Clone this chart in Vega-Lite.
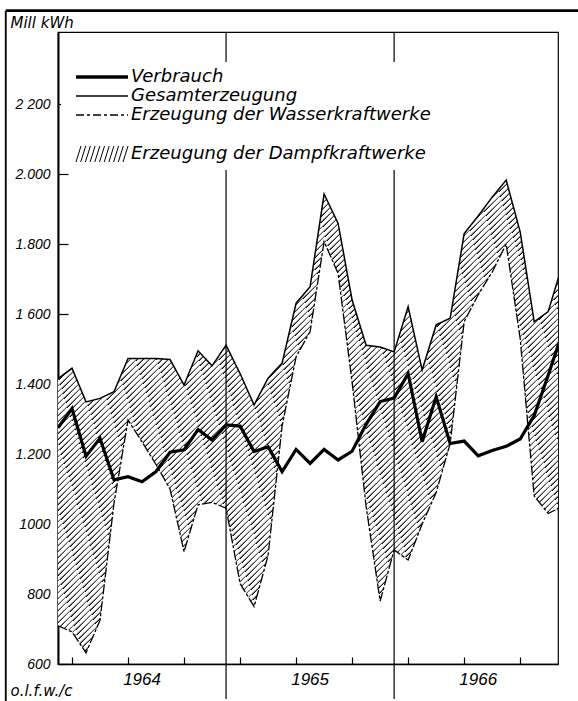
{
"$schema":"https://vega.github.io/schema/vega-lite/v6.json",
"width":500,"height":632,
"autosize":{"type":"none"},
"padding":{"left":58,"top":32,"right":20,"bottom":37},
"background":"white",
"config":{"view":{"stroke":"black","strokeWidth":1.2},"font":"DejaVu Sans"},
"data":{"values":[
{"i":0,"Verbrauch":1275,"Gesamt":1415,"Wasser":709},
{"i":1,"Verbrauch":1330,"Gesamt":1445,"Wasser":692},
{"i":2,"Verbrauch":1194,"Gesamt":1349,"Wasser":632},
{"i":3,"Verbrauch":1245,"Gesamt":1359,"Wasser":725},
{"i":4,"Verbrauch":1126,"Gesamt":1378,"Wasser":1060},
{"i":5,"Verbrauch":1135,"Gesamt":1473,"Wasser":1297},
{"i":6,"Verbrauch":1121,"Gesamt":1473,"Wasser":1235},
{"i":7,"Verbrauch":1150,"Gesamt":1473,"Wasser":1170},
{"i":8,"Verbrauch":1205,"Gesamt":1470,"Wasser":1100},
{"i":9,"Verbrauch":1212,"Gesamt":1397,"Wasser":921},
{"i":10,"Verbrauch":1270,"Gesamt":1495,"Wasser":1055},
{"i":11,"Verbrauch":1240,"Gesamt":1452,"Wasser":1062},
{"i":12,"Verbrauch":1283,"Gesamt":1511,"Wasser":1045},
{"i":13,"Verbrauch":1280,"Gesamt":1430,"Wasser":830},
{"i":14,"Verbrauch":1207,"Gesamt":1340,"Wasser":764},
{"i":15,"Verbrauch":1221,"Gesamt":1417,"Wasser":910},
{"i":16,"Verbrauch":1150,"Gesamt":1460,"Wasser":1280},
{"i":17,"Verbrauch":1213,"Gesamt":1631,"Wasser":1478},
{"i":18,"Verbrauch":1173,"Gesamt":1678,"Wasser":1550},
{"i":19,"Verbrauch":1213,"Gesamt":1943,"Wasser":1807},
{"i":20,"Verbrauch":1183,"Gesamt":1859,"Wasser":1716},
{"i":21,"Verbrauch":1208,"Gesamt":1640,"Wasser":1405},
{"i":22,"Verbrauch":1285,"Gesamt":1511,"Wasser":1050},
{"i":23,"Verbrauch":1350,"Gesamt":1506,"Wasser":780},
{"i":24,"Verbrauch":1360,"Gesamt":1492,"Wasser":926},
{"i":25,"Verbrauch":1430,"Gesamt":1621,"Wasser":897},
{"i":26,"Verbrauch":1235,"Gesamt":1440,"Wasser":1000},
{"i":27,"Verbrauch":1364,"Gesamt":1569,"Wasser":1090},
{"i":28,"Verbrauch":1230,"Gesamt":1588,"Wasser":1230},
{"i":29,"Verbrauch":1237,"Gesamt":1830,"Wasser":1578},
{"i":30,"Verbrauch":1195,"Gesamt":1880,"Wasser":1655},
{"i":31,"Verbrauch":1210,"Gesamt":1934,"Wasser":1720},
{"i":32,"Verbrauch":1222,"Gesamt":1983,"Wasser":1800},
{"i":33,"Verbrauch":1243,"Gesamt":1835,"Wasser":1530},
{"i":34,"Verbrauch":1310,"Gesamt":1578,"Wasser":1080},
{"i":35,"Verbrauch":1425,"Gesamt":1607,"Wasser":1030},
{"i":36,"Verbrauch":1545,"Gesamt":1740,"Wasser":1050}
]},
"layer":[
{"mark":{"type":"area","clip":true,"fill":{"gradient":"linear","x1":0,"y1":0,"x2":1,"y2":1,"stops":[
{"offset":0,"color":"#fff"},{"offset":0.00375,"color":"#fff"},{"offset":0.00625,"color":"#000"},{"offset":0.00625,"color":"#fff"},{"offset":0.01,"color":"#fff"},{"offset":0.0125,"color":"#000"},{"offset":0.0125,"color":"#fff"},{"offset":0.01625,"color":"#fff"},{"offset":0.01875,"color":"#000"},{"offset":0.01875,"color":"#fff"},{"offset":0.0225,"color":"#fff"},{"offset":0.025,"color":"#000"},{"offset":0.025,"color":"#fff"},{"offset":0.02875,"color":"#fff"},{"offset":0.03125,"color":"#000"},{"offset":0.03125,"color":"#fff"},{"offset":0.035,"color":"#fff"},{"offset":0.0375,"color":"#000"},{"offset":0.0375,"color":"#fff"},{"offset":0.04125,"color":"#fff"},{"offset":0.04375,"color":"#000"},{"offset":0.04375,"color":"#fff"},{"offset":0.0475,"color":"#fff"},{"offset":0.05,"color":"#000"},
{"offset":0.05,"color":"#fff"},{"offset":0.05375,"color":"#fff"},{"offset":0.05625,"color":"#000"},{"offset":0.05625,"color":"#fff"},{"offset":0.06,"color":"#fff"},{"offset":0.0625,"color":"#000"},{"offset":0.0625,"color":"#fff"},{"offset":0.06625,"color":"#fff"},{"offset":0.06875,"color":"#000"},{"offset":0.06875,"color":"#fff"},{"offset":0.0725,"color":"#fff"},{"offset":0.075,"color":"#000"},{"offset":0.075,"color":"#fff"},{"offset":0.07875,"color":"#fff"},{"offset":0.08125,"color":"#000"},{"offset":0.08125,"color":"#fff"},{"offset":0.085,"color":"#fff"},{"offset":0.0875,"color":"#000"},{"offset":0.0875,"color":"#fff"},{"offset":0.09125,"color":"#fff"},{"offset":0.09375,"color":"#000"},{"offset":0.09375,"color":"#fff"},{"offset":0.0975,"color":"#fff"},{"offset":0.1,"color":"#000"},
{"offset":0.1,"color":"#fff"},{"offset":0.10375,"color":"#fff"},{"offset":0.10625,"color":"#000"},{"offset":0.10625,"color":"#fff"},{"offset":0.11,"color":"#fff"},{"offset":0.1125,"color":"#000"},{"offset":0.1125,"color":"#fff"},{"offset":0.11625,"color":"#fff"},{"offset":0.11875,"color":"#000"},{"offset":0.11875,"color":"#fff"},{"offset":0.1225,"color":"#fff"},{"offset":0.125,"color":"#000"},{"offset":0.125,"color":"#fff"},{"offset":0.12875,"color":"#fff"},{"offset":0.13125,"color":"#000"},{"offset":0.13125,"color":"#fff"},{"offset":0.135,"color":"#fff"},{"offset":0.1375,"color":"#000"},{"offset":0.1375,"color":"#fff"},{"offset":0.14125,"color":"#fff"},{"offset":0.14375,"color":"#000"},{"offset":0.14375,"color":"#fff"},{"offset":0.1475,"color":"#fff"},{"offset":0.15,"color":"#000"},
{"offset":0.15,"color":"#fff"},{"offset":0.15375,"color":"#fff"},{"offset":0.15625,"color":"#000"},{"offset":0.15625,"color":"#fff"},{"offset":0.16,"color":"#fff"},{"offset":0.1625,"color":"#000"},{"offset":0.1625,"color":"#fff"},{"offset":0.16625,"color":"#fff"},{"offset":0.16875,"color":"#000"},{"offset":0.16875,"color":"#fff"},{"offset":0.1725,"color":"#fff"},{"offset":0.175,"color":"#000"},{"offset":0.175,"color":"#fff"},{"offset":0.17875,"color":"#fff"},{"offset":0.18125,"color":"#000"},{"offset":0.18125,"color":"#fff"},{"offset":0.185,"color":"#fff"},{"offset":0.1875,"color":"#000"},{"offset":0.1875,"color":"#fff"},{"offset":0.19125,"color":"#fff"},{"offset":0.19375,"color":"#000"},{"offset":0.19375,"color":"#fff"},{"offset":0.1975,"color":"#fff"},{"offset":0.2,"color":"#000"},
{"offset":0.2,"color":"#fff"},{"offset":0.20375,"color":"#fff"},{"offset":0.20625,"color":"#000"},{"offset":0.20625,"color":"#fff"},{"offset":0.21,"color":"#fff"},{"offset":0.2125,"color":"#000"},{"offset":0.2125,"color":"#fff"},{"offset":0.21625,"color":"#fff"},{"offset":0.21875,"color":"#000"},{"offset":0.21875,"color":"#fff"},{"offset":0.2225,"color":"#fff"},{"offset":0.225,"color":"#000"},{"offset":0.225,"color":"#fff"},{"offset":0.22875,"color":"#fff"},{"offset":0.23125,"color":"#000"},{"offset":0.23125,"color":"#fff"},{"offset":0.235,"color":"#fff"},{"offset":0.2375,"color":"#000"},{"offset":0.2375,"color":"#fff"},{"offset":0.24125,"color":"#fff"},{"offset":0.24375,"color":"#000"},{"offset":0.24375,"color":"#fff"},{"offset":0.2475,"color":"#fff"},{"offset":0.25,"color":"#000"},
{"offset":0.25,"color":"#fff"},{"offset":0.25375,"color":"#fff"},{"offset":0.25625,"color":"#000"},{"offset":0.25625,"color":"#fff"},{"offset":0.26,"color":"#fff"},{"offset":0.2625,"color":"#000"},{"offset":0.2625,"color":"#fff"},{"offset":0.26625,"color":"#fff"},{"offset":0.26875,"color":"#000"},{"offset":0.26875,"color":"#fff"},{"offset":0.2725,"color":"#fff"},{"offset":0.275,"color":"#000"},{"offset":0.275,"color":"#fff"},{"offset":0.27875,"color":"#fff"},{"offset":0.28125,"color":"#000"},{"offset":0.28125,"color":"#fff"},{"offset":0.285,"color":"#fff"},{"offset":0.2875,"color":"#000"},{"offset":0.2875,"color":"#fff"},{"offset":0.29125,"color":"#fff"},{"offset":0.29375,"color":"#000"},{"offset":0.29375,"color":"#fff"},{"offset":0.2975,"color":"#fff"},{"offset":0.3,"color":"#000"},
{"offset":0.3,"color":"#fff"},{"offset":0.30375,"color":"#fff"},{"offset":0.30625,"color":"#000"},{"offset":0.30625,"color":"#fff"},{"offset":0.31,"color":"#fff"},{"offset":0.3125,"color":"#000"},{"offset":0.3125,"color":"#fff"},{"offset":0.31625,"color":"#fff"},{"offset":0.31875,"color":"#000"},{"offset":0.31875,"color":"#fff"},{"offset":0.3225,"color":"#fff"},{"offset":0.325,"color":"#000"},{"offset":0.325,"color":"#fff"},{"offset":0.32875,"color":"#fff"},{"offset":0.33125,"color":"#000"},{"offset":0.33125,"color":"#fff"},{"offset":0.335,"color":"#fff"},{"offset":0.3375,"color":"#000"},{"offset":0.3375,"color":"#fff"},{"offset":0.34125,"color":"#fff"},{"offset":0.34375,"color":"#000"},{"offset":0.34375,"color":"#fff"},{"offset":0.3475,"color":"#fff"},{"offset":0.35,"color":"#000"},
{"offset":0.35,"color":"#fff"},{"offset":0.35375,"color":"#fff"},{"offset":0.35625,"color":"#000"},{"offset":0.35625,"color":"#fff"},{"offset":0.36,"color":"#fff"},{"offset":0.3625,"color":"#000"},{"offset":0.3625,"color":"#fff"},{"offset":0.36625,"color":"#fff"},{"offset":0.36875,"color":"#000"},{"offset":0.36875,"color":"#fff"},{"offset":0.3725,"color":"#fff"},{"offset":0.375,"color":"#000"},{"offset":0.375,"color":"#fff"},{"offset":0.37875,"color":"#fff"},{"offset":0.38125,"color":"#000"},{"offset":0.38125,"color":"#fff"},{"offset":0.385,"color":"#fff"},{"offset":0.3875,"color":"#000"},{"offset":0.3875,"color":"#fff"},{"offset":0.39125,"color":"#fff"},{"offset":0.39375,"color":"#000"},{"offset":0.39375,"color":"#fff"},{"offset":0.3975,"color":"#fff"},{"offset":0.4,"color":"#000"},
{"offset":0.4,"color":"#fff"},{"offset":0.40375,"color":"#fff"},{"offset":0.40625,"color":"#000"},{"offset":0.40625,"color":"#fff"},{"offset":0.41,"color":"#fff"},{"offset":0.4125,"color":"#000"},{"offset":0.4125,"color":"#fff"},{"offset":0.41625,"color":"#fff"},{"offset":0.41875,"color":"#000"},{"offset":0.41875,"color":"#fff"},{"offset":0.4225,"color":"#fff"},{"offset":0.425,"color":"#000"},{"offset":0.425,"color":"#fff"},{"offset":0.42875,"color":"#fff"},{"offset":0.43125,"color":"#000"},{"offset":0.43125,"color":"#fff"},{"offset":0.435,"color":"#fff"},{"offset":0.4375,"color":"#000"},{"offset":0.4375,"color":"#fff"},{"offset":0.44125,"color":"#fff"},{"offset":0.44375,"color":"#000"},{"offset":0.44375,"color":"#fff"},{"offset":0.4475,"color":"#fff"},{"offset":0.45,"color":"#000"},
{"offset":0.45,"color":"#fff"},{"offset":0.45375,"color":"#fff"},{"offset":0.45625,"color":"#000"},{"offset":0.45625,"color":"#fff"},{"offset":0.46,"color":"#fff"},{"offset":0.4625,"color":"#000"},{"offset":0.4625,"color":"#fff"},{"offset":0.46625,"color":"#fff"},{"offset":0.46875,"color":"#000"},{"offset":0.46875,"color":"#fff"},{"offset":0.4725,"color":"#fff"},{"offset":0.475,"color":"#000"},{"offset":0.475,"color":"#fff"},{"offset":0.47875,"color":"#fff"},{"offset":0.48125,"color":"#000"},{"offset":0.48125,"color":"#fff"},{"offset":0.485,"color":"#fff"},{"offset":0.4875,"color":"#000"},{"offset":0.4875,"color":"#fff"},{"offset":0.49125,"color":"#fff"},{"offset":0.49375,"color":"#000"},{"offset":0.49375,"color":"#fff"},{"offset":0.4975,"color":"#fff"},{"offset":0.5,"color":"#000"},
{"offset":0.5,"color":"#fff"},{"offset":0.50375,"color":"#fff"},{"offset":0.50625,"color":"#000"},{"offset":0.50625,"color":"#fff"},{"offset":0.51,"color":"#fff"},{"offset":0.5125,"color":"#000"},{"offset":0.5125,"color":"#fff"},{"offset":0.51625,"color":"#fff"},{"offset":0.51875,"color":"#000"},{"offset":0.51875,"color":"#fff"},{"offset":0.5225,"color":"#fff"},{"offset":0.525,"color":"#000"},{"offset":0.525,"color":"#fff"},{"offset":0.52875,"color":"#fff"},{"offset":0.53125,"color":"#000"},{"offset":0.53125,"color":"#fff"},{"offset":0.535,"color":"#fff"},{"offset":0.5375,"color":"#000"},{"offset":0.5375,"color":"#fff"},{"offset":0.54125,"color":"#fff"},{"offset":0.54375,"color":"#000"},{"offset":0.54375,"color":"#fff"},{"offset":0.5475,"color":"#fff"},{"offset":0.55,"color":"#000"},
{"offset":0.55,"color":"#fff"},{"offset":0.55375,"color":"#fff"},{"offset":0.55625,"color":"#000"},{"offset":0.55625,"color":"#fff"},{"offset":0.56,"color":"#fff"},{"offset":0.5625,"color":"#000"},{"offset":0.5625,"color":"#fff"},{"offset":0.56625,"color":"#fff"},{"offset":0.56875,"color":"#000"},{"offset":0.56875,"color":"#fff"},{"offset":0.5725,"color":"#fff"},{"offset":0.575,"color":"#000"},{"offset":0.575,"color":"#fff"},{"offset":0.57875,"color":"#fff"},{"offset":0.58125,"color":"#000"},{"offset":0.58125,"color":"#fff"},{"offset":0.585,"color":"#fff"},{"offset":0.5875,"color":"#000"},{"offset":0.5875,"color":"#fff"},{"offset":0.59125,"color":"#fff"},{"offset":0.59375,"color":"#000"},{"offset":0.59375,"color":"#fff"},{"offset":0.5975,"color":"#fff"},{"offset":0.6,"color":"#000"},
{"offset":0.6,"color":"#fff"},{"offset":0.60375,"color":"#fff"},{"offset":0.60625,"color":"#000"},{"offset":0.60625,"color":"#fff"},{"offset":0.61,"color":"#fff"},{"offset":0.6125,"color":"#000"},{"offset":0.6125,"color":"#fff"},{"offset":0.61625,"color":"#fff"},{"offset":0.61875,"color":"#000"},{"offset":0.61875,"color":"#fff"},{"offset":0.6225,"color":"#fff"},{"offset":0.625,"color":"#000"},{"offset":0.625,"color":"#fff"},{"offset":0.62875,"color":"#fff"},{"offset":0.63125,"color":"#000"},{"offset":0.63125,"color":"#fff"},{"offset":0.635,"color":"#fff"},{"offset":0.6375,"color":"#000"},{"offset":0.6375,"color":"#fff"},{"offset":0.64125,"color":"#fff"},{"offset":0.64375,"color":"#000"},{"offset":0.64375,"color":"#fff"},{"offset":0.6475,"color":"#fff"},{"offset":0.65,"color":"#000"},
{"offset":0.65,"color":"#fff"},{"offset":0.65375,"color":"#fff"},{"offset":0.65625,"color":"#000"},{"offset":0.65625,"color":"#fff"},{"offset":0.66,"color":"#fff"},{"offset":0.6625,"color":"#000"},{"offset":0.6625,"color":"#fff"},{"offset":0.66625,"color":"#fff"},{"offset":0.66875,"color":"#000"},{"offset":0.66875,"color":"#fff"},{"offset":0.6725,"color":"#fff"},{"offset":0.675,"color":"#000"},{"offset":0.675,"color":"#fff"},{"offset":0.67875,"color":"#fff"},{"offset":0.68125,"color":"#000"},{"offset":0.68125,"color":"#fff"},{"offset":0.685,"color":"#fff"},{"offset":0.6875,"color":"#000"},{"offset":0.6875,"color":"#fff"},{"offset":0.69125,"color":"#fff"},{"offset":0.69375,"color":"#000"},{"offset":0.69375,"color":"#fff"},{"offset":0.6975,"color":"#fff"},{"offset":0.7,"color":"#000"},
{"offset":0.7,"color":"#fff"},{"offset":0.70375,"color":"#fff"},{"offset":0.70625,"color":"#000"},{"offset":0.70625,"color":"#fff"},{"offset":0.71,"color":"#fff"},{"offset":0.7125,"color":"#000"},{"offset":0.7125,"color":"#fff"},{"offset":0.71625,"color":"#fff"},{"offset":0.71875,"color":"#000"},{"offset":0.71875,"color":"#fff"},{"offset":0.7225,"color":"#fff"},{"offset":0.725,"color":"#000"},{"offset":0.725,"color":"#fff"},{"offset":0.72875,"color":"#fff"},{"offset":0.73125,"color":"#000"},{"offset":0.73125,"color":"#fff"},{"offset":0.735,"color":"#fff"},{"offset":0.7375,"color":"#000"},{"offset":0.7375,"color":"#fff"},{"offset":0.74125,"color":"#fff"},{"offset":0.74375,"color":"#000"},{"offset":0.74375,"color":"#fff"},{"offset":0.7475,"color":"#fff"},{"offset":0.75,"color":"#000"},
{"offset":0.75,"color":"#fff"},{"offset":0.75375,"color":"#fff"},{"offset":0.75625,"color":"#000"},{"offset":0.75625,"color":"#fff"},{"offset":0.76,"color":"#fff"},{"offset":0.7625,"color":"#000"},{"offset":0.7625,"color":"#fff"},{"offset":0.76625,"color":"#fff"},{"offset":0.76875,"color":"#000"},{"offset":0.76875,"color":"#fff"},{"offset":0.7725,"color":"#fff"},{"offset":0.775,"color":"#000"},{"offset":0.775,"color":"#fff"},{"offset":0.77875,"color":"#fff"},{"offset":0.78125,"color":"#000"},{"offset":0.78125,"color":"#fff"},{"offset":0.785,"color":"#fff"},{"offset":0.7875,"color":"#000"},{"offset":0.7875,"color":"#fff"},{"offset":0.79125,"color":"#fff"},{"offset":0.79375,"color":"#000"},{"offset":0.79375,"color":"#fff"},{"offset":0.7975,"color":"#fff"},{"offset":0.8,"color":"#000"},
{"offset":0.8,"color":"#fff"},{"offset":0.80375,"color":"#fff"},{"offset":0.80625,"color":"#000"},{"offset":0.80625,"color":"#fff"},{"offset":0.81,"color":"#fff"},{"offset":0.8125,"color":"#000"},{"offset":0.8125,"color":"#fff"},{"offset":0.81625,"color":"#fff"},{"offset":0.81875,"color":"#000"},{"offset":0.81875,"color":"#fff"},{"offset":0.8225,"color":"#fff"},{"offset":0.825,"color":"#000"},{"offset":0.825,"color":"#fff"},{"offset":0.82875,"color":"#fff"},{"offset":0.83125,"color":"#000"},{"offset":0.83125,"color":"#fff"},{"offset":0.835,"color":"#fff"},{"offset":0.8375,"color":"#000"},{"offset":0.8375,"color":"#fff"},{"offset":0.84125,"color":"#fff"},{"offset":0.84375,"color":"#000"},{"offset":0.84375,"color":"#fff"},{"offset":0.8475,"color":"#fff"},{"offset":0.85,"color":"#000"},
{"offset":0.85,"color":"#fff"},{"offset":0.85375,"color":"#fff"},{"offset":0.85625,"color":"#000"},{"offset":0.85625,"color":"#fff"},{"offset":0.86,"color":"#fff"},{"offset":0.8625,"color":"#000"},{"offset":0.8625,"color":"#fff"},{"offset":0.86625,"color":"#fff"},{"offset":0.86875,"color":"#000"},{"offset":0.86875,"color":"#fff"},{"offset":0.8725,"color":"#fff"},{"offset":0.875,"color":"#000"},{"offset":0.875,"color":"#fff"},{"offset":0.87875,"color":"#fff"},{"offset":0.88125,"color":"#000"},{"offset":0.88125,"color":"#fff"},{"offset":0.885,"color":"#fff"},{"offset":0.8875,"color":"#000"},{"offset":0.8875,"color":"#fff"},{"offset":0.89125,"color":"#fff"},{"offset":0.89375,"color":"#000"},{"offset":0.89375,"color":"#fff"},{"offset":0.8975,"color":"#fff"},{"offset":0.9,"color":"#000"},
{"offset":0.9,"color":"#fff"},{"offset":0.90375,"color":"#fff"},{"offset":0.90625,"color":"#000"},{"offset":0.90625,"color":"#fff"},{"offset":0.91,"color":"#fff"},{"offset":0.9125,"color":"#000"},{"offset":0.9125,"color":"#fff"},{"offset":0.91625,"color":"#fff"},{"offset":0.91875,"color":"#000"},{"offset":0.91875,"color":"#fff"},{"offset":0.9225,"color":"#fff"},{"offset":0.925,"color":"#000"},{"offset":0.925,"color":"#fff"},{"offset":0.92875,"color":"#fff"},{"offset":0.93125,"color":"#000"},{"offset":0.93125,"color":"#fff"},{"offset":0.935,"color":"#fff"},{"offset":0.9375,"color":"#000"},{"offset":0.9375,"color":"#fff"},{"offset":0.94125,"color":"#fff"},{"offset":0.94375,"color":"#000"},{"offset":0.94375,"color":"#fff"},{"offset":0.9475,"color":"#fff"},{"offset":0.95,"color":"#000"},
{"offset":0.95,"color":"#fff"},{"offset":0.95375,"color":"#fff"},{"offset":0.95625,"color":"#000"},{"offset":0.95625,"color":"#fff"},{"offset":0.96,"color":"#fff"},{"offset":0.9625,"color":"#000"},{"offset":0.9625,"color":"#fff"},{"offset":0.96625,"color":"#fff"},{"offset":0.96875,"color":"#000"},{"offset":0.96875,"color":"#fff"},{"offset":0.9725,"color":"#fff"},{"offset":0.975,"color":"#000"},{"offset":0.975,"color":"#fff"},{"offset":0.97875,"color":"#fff"},{"offset":0.98125,"color":"#000"},{"offset":0.98125,"color":"#fff"},{"offset":0.985,"color":"#fff"},{"offset":0.9875,"color":"#000"},{"offset":0.9875,"color":"#fff"},{"offset":0.99125,"color":"#fff"},{"offset":0.99375,"color":"#000"},{"offset":0.99375,"color":"#fff"},{"offset":0.9975,"color":"#fff"},{"offset":1,"color":"#000"}
]}},
"encoding":{
"x":{"field":"i","type":"quantitative","scale":{"domain":[0,35.7],"nice":false,"zero":false},
"axis":{"values":[1,2,3,4,5,6,7,8,9,10,11,12,13,14,15,16,17,18,19,20,21,22,23,24,25,26,27,28,29,30,31,32,33,34,35],
"labels":false,"grid":false,"tickSize":-7,"tickColor":"black","tickWidth":1.2,"domainColor":"black","domainWidth":1.5,
"title":"o.l.f.w./c","titleX":-48,"titleY":31,"titleAlign":"left","titleAnchor":"start","titleBaseline":"alphabetic","titleFont":"DejaVu Sans","titleFontStyle":"italic","titleFontWeight":"normal","titleFontSize":15,"titleColor":"black"}},
"y":{"field":"Wasser","type":"quantitative","scale":{"domain":[600,2406],"nice":false,"zero":false},
"axis":{"values":[600,700,800,900,1000,1100,1200,1300,1400,1500,1600,1700,1800,1900,2000,2100,2200,2300],
"labelExpr":"datum.value==2200?'2 200':datum.value==2000?'2.000':datum.value==1800?'1.800':datum.value==1600?'1 600':datum.value==1400?'1.400':datum.value==1200?'1.200':datum.value==1000?'1000':datum.value==800?'800':datum.value==600?'600':''",
"grid":false,"tickSize":-10,"tickColor":"black","tickWidth":1.2,"labelPadding":18,"labelFont":"Liberation Sans","labelFontStyle":"italic","labelFontSize":14,"labelColor":"black","labelOverlap":false,"labelBound":false,"domainColor":"black","domainWidth":2,
"title":"Mill kWh","titleAngle":0,"titleX":-48,"titleY":-5,"titleAlign":"left","titleAnchor":"start","titleBaseline":"alphabetic","titleFont":"DejaVu Sans","titleFontStyle":"italic","titleFontWeight":"normal","titleFontSize":15,"titleColor":"black"}},
"y2":{"field":"Gesamt"}}},
{"mark":{"type":"line","clip":true,"strokeWidth":1.3,"strokeDash":[10,2,3,2]},
"encoding":{"x":{"field":"i","type":"quantitative"},"y":{"field":"Wasser","type":"quantitative"},
"color":{"datum":"Erzeugung der Wasserkraftwerke","type":"nominal",
"scale":{"domain":["Verbrauch","Gesamterzeugung","Erzeugung der Wasserkraftwerke"," ","Erzeugung der Dampfkraftwerke"],"range":["black","black","black","black","black"]},
"legend":{"title":null,"orient":"none","legendX":3,"legendY":30,"padding":6,"fillColor":"white","labelFont":"DejaVu Sans","labelFontStyle":"italic","labelFontSize":18,"labelColor":"black","labelLimit":500,"symbolSize":100,"symbolStrokeWidth":1.5,"labelOffset":46,"rowPadding":1,
"encode":{"symbols":{"update":{
"shape":{"signal":"datum.value=='Erzeugung der Dampfkraftwerke'?'M0,1.6L1,-1.6M0.94,1.6L1.94,-1.6M1.88,1.6L2.88,-1.6M2.82,1.6L3.82,-1.6M3.76,1.6L4.76,-1.6M4.7,1.6L5.7,-1.6M5.64,1.6L6.64,-1.6M6.58,1.6L7.58,-1.6M7.52,1.6L8.52,-1.6M8.46,1.6L9.46,-1.6M9.4,1.6L10.4,-1.6':'M0,0L10.4,0'"},
"strokeWidth":{"signal":"datum.value=='Verbrauch'?3.5:datum.value=='Erzeugung der Dampfkraftwerke'?1:1.4"},
"strokeDash":{"signal":"datum.value=='Erzeugung der Wasserkraftwerke'?[8,3,3,3]:[]"},
"strokeOpacity":{"signal":"datum.value==' '?0:1"},
"stroke":{"value":"black"},"fill":{"value":"transparent"},"opacity":{"value":1}}}}}}}},
{"mark":{"type":"line","clip":true,"strokeWidth":1.5},
"encoding":{"x":{"field":"i","type":"quantitative"},"y":{"field":"Gesamt","type":"quantitative"},"color":{"datum":"Gesamterzeugung","type":"nominal"}}},
{"mark":{"type":"line","clip":true,"strokeWidth":3.2},
"encoding":{"x":{"field":"i","type":"quantitative"},"y":{"field":"Verbrauch","type":"quantitative"},"color":{"datum":"Verbrauch","type":"nominal"}}},
{"data":{"values":[{"jahr":12},{"jahr":24}]},
"mark":{"type":"rule","clip":false,"color":"black","strokeWidth":1.2},
"encoding":{"x":{"field":"jahr","type":"quantitative"},"y":{"datum":2406},"y2":{"datum":500}}},
{"data":{"values":[{"jahr":"1964","mitte":6},{"jahr":"1965","mitte":18},{"jahr":"1966","mitte":30}]},
"mark":{"type":"text","clip":false,"font":"Liberation Sans","fontStyle":"italic","fontSize":17,"color":"black","baseline":"middle","align":"center"},
"encoding":{"x":{"field":"mitte","type":"quantitative"},"y":{"datum":554},"text":{"field":"jahr"}}},
{"data":{"values":[{"rand":"oben"}]},
"mark":{"type":"rule","clip":false,"color":"black","strokeWidth":2.6},
"encoding":{"x":{"datum":-3.73},"x2":{"datum":37.2},"y":{"datum":2467}}},
{"data":{"values":[{"rand":"links"}]},
"mark":{"type":"rule","clip":false,"color":"black","strokeWidth":1.8},
"encoding":{"x":{"datum":-3.73},"y":{"datum":2467},"y2":{"datum":490}}}
]
}
